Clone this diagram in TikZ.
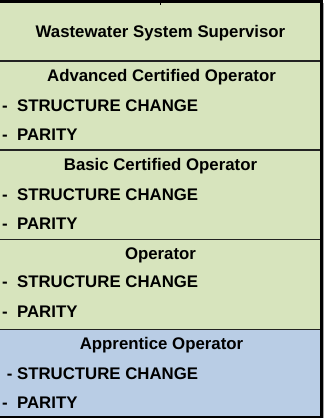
\documentclass[tikz,border=0pt]{standalone}
\usepackage{fontspec}
\setmainfont{Liberation Sans}
\definecolor{rowgreen}{RGB}{215,228,189}
\definecolor{rowblue}{RGB}{185,205,229}
\definecolor{divline}{RGB}{35,35,35}
\begin{document}
\begin{tikzpicture}[x=1pt,y=-1pt,
  rowtitle/.style={font=\bfseries\fontsize{16.8}{20}\selectfont, anchor=base, inner sep=0pt},
  rowitem/.style={font=\bfseries\fontsize{16.8}{20}\selectfont, anchor=base west, inner sep=0pt},
  divider/.style={draw=divline, line width=1.2pt},
  frame/.style={draw=black, line width=3pt}]
\useasboundingbox (0,0) rectangle (328,418);
\fill[white] (0,0) rectangle (328,418);
\fill[rowgreen] (0,0) rectangle (321,329.3);
\fill[rowblue] (0,329.3) rectangle (321,417);
% dividers
\draw[divider] (0,61) -- (321,61);
\draw[divider] (0,150) -- (321,150);
\draw[divider] (0,239.3) -- (321,239.3);
\draw[divider] (0,329.3) -- (321,329.3);
% frame
\draw[frame] (0,1.5) -- (323,1.5);
\draw[frame] (321.5,0) -- (321.5,418);
\draw[draw=black, line width=2pt] (0,417) -- (323,417);
\draw[draw=gray!70, line width=1pt] (323.5,3) -- (323.5,418);
% stub of incoming connector
\coordinate (stubtop) at (160.5,0);
\coordinate (stubend) at (160.5,4.5);
\draw[line width=1.5pt] (stubtop) -- (stubend);
% texts
\node[rowtitle] (sup) at (160.5,37.3) {Wastewater System Supervisor};
\node[rowtitle] (adv) at (161.5,81.5) {Advanced Certified Operator};
\node[rowitem] (adv1) at (2,111) {-~~STRUCTURE CHANGE};
\node[rowitem] (adv2) at (2,140) {-~~PARITY};
\node[rowtitle] (bas) at (160.5,170.7) {Basic Certified Operator};
\node[rowitem] (bas1) at (2,200) {-~~STRUCTURE CHANGE};
\node[rowitem] (bas2) at (2,229.3) {-~~PARITY};
\node[rowtitle] (op) at (160.5,259.3) {Operator};
\node[rowitem] (op1) at (2,287.3) {-~~STRUCTURE CHANGE};
\node[rowitem] (op2) at (2,317.3) {-~~PARITY};
\node[rowtitle] (app) at (161.5,349.3) {Apprentice Operator};
\node[rowitem] (app1) at (6.6,379.3) {-~STRUCTURE CHANGE};
\node[rowitem] (app2) at (2,408.3) {-~~PARITY};
\end{tikzpicture}
\end{document}
